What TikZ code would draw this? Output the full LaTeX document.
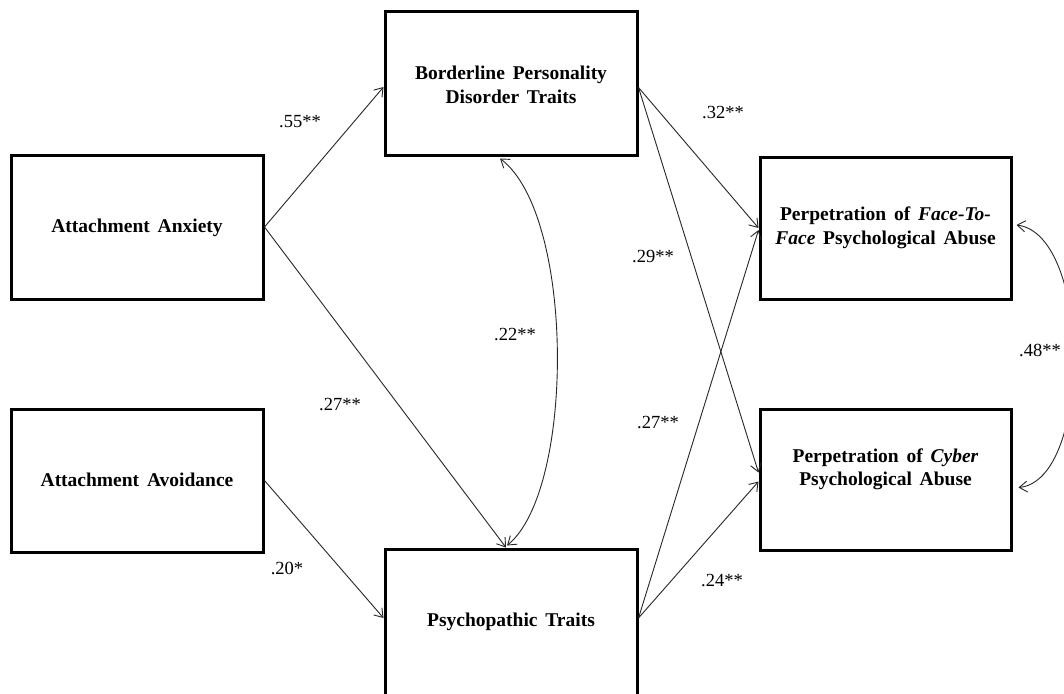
\documentclass[tikz,border=0pt]{standalone}
\usepackage{fontspec}
\setmainfont{Liberation Serif}[WordSpace=1.6]
\usetikzlibrary{arrows.meta}
\begin{document}
\begin{tikzpicture}[x=1pt,y=-1pt,
  box/.style={draw, line width=3pt, minimum width=252pt, minimum height=143pt, inner sep=0pt},
  boxtext/.style={align=center, inner sep=0pt, font=\fontsize{19.5}{23.5}\selectfont\bfseries},
  pathline/.style={draw=black!85, line width=0.9pt, -{Straight Barb[length=8pt,width=11pt]}},
  covline/.style={draw=black!85, line width=0.9pt, {Straight Barb[length=8pt,width=11pt]}-{Straight Barb[length=8pt,width=11pt]}},
  coef/.style={font=\fontsize{18.5}{22}\selectfont, inner sep=0pt}]
\useasboundingbox (0,0) rectangle (1064,693);
% boxes
\node[box, minimum height=144pt] (anx) at (137,227) {};
\node[box] (avo) at (137,480.5) {};
\node[box] (bpd) at (511,83.5) {};
\node[box, minimum height=148pt] (psy) at (511,623) {};
\node[box, minimum width=251pt, minimum height=142pt] (ftf) at (885.5,228) {};
\node[box, minimum width=251pt, minimum height=141pt] (cyb) at (885.5,479.5) {};
% box texts
\node[boxtext] (tanx) at (137,228) {Attachment Anxiety};
\node[boxtext] (tavo) at (137,480) {Attachment Avoidance};
\node[boxtext] (tbpd) at (511,85) {Borderline Personality\\Disorder Traits};
\node[boxtext] (tpsy) at (511,622) {Psychopathic Traits};
\node[boxtext] (tftf) at (885.5,228) {Perpetration of \textit{Face-To-}\\\textit{Face} Psychological Abuse};
\node[boxtext] (tcyb) at (885.5,469.5) {Perpetration of \textit{Cyber}\\Psychological Abuse};
% paths
\draw[pathline] (anx.east) -- ([yshift=-3.5pt]bpd.west);
\draw[pathline] (anx.east) -- ([xshift=-5pt]psy.north);
\draw[pathline] (avo.east) -- ([yshift=5pt]psy.west);
\draw[pathline] ([yshift=-4pt]bpd.east) -- (ftf.west);
\draw[pathline] ([yshift=-4pt]bpd.east) -- ([yshift=7pt]cyb.west);
\draw[pathline] ([yshift=5pt]psy.east) -- ([yshift=-2pt]ftf.west);
\draw[pathline] ([yshift=5pt]psy.east) -- ([yshift=-2pt]cyb.west);
% covariances
\draw[covline] ([xshift=-11pt,yshift=-2pt]bpd.south) .. controls (575,215) and (575,490) .. ([xshift=-4pt,yshift=2pt]psy.north);
\draw[covline] ([xshift=4pt,yshift=3pt]ftf.east) .. controls (1092,235) and (1092,480) .. ([xshift=6pt,yshift=-8pt]cyb.east);
% coefficients
\node[coef] (c55) at (300,122) {.55**};
\node[coef] (c27a) at (340,405) {.27**};
\node[coef] (c20) at (287,568) {.20*};
\node[coef] (c22) at (515,335) {.22**};
\node[coef] (c32) at (723,113) {.32**};
\node[coef] (c29) at (653,257) {.29**};
\node[coef] (c27b) at (658,423) {.27**};
\node[coef] (c24) at (722,580) {.24**};
\node[coef] (c48) at (1040,350) {.48**};
\end{tikzpicture}
\end{document}
